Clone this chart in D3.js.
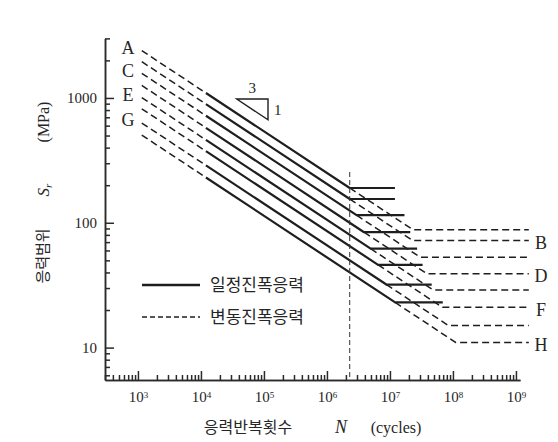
<!DOCTYPE html>
<html lang="ko">
<head>
<meta charset="UTF-8">
<title>S-N curves</title>
<script src="https://cdn.jsdelivr.net/npm/d3@7"></script>
<style>
  body { margin: 0; background: #fff; }
  svg { display: block; }
  .num { font-family: "Liberation Serif", "DejaVu Serif", serif; fill: #262626; }
  .kor { font-family: "Noto Sans CJK KR", sans-serif; fill: #262626; }
  .axis path, .axis line { stroke: #2a2a2a; stroke-width: 1.5px; }
</style>
</head>
<body>
<svg width="558" height="442"></svg>
<script>
// fatigue categories, stresses in MPa
const categories = ["A", "B", "C", "D", "E", "F", "G", "H"];
const stress2M = [190, 155, 125, 100, 80, 65, 50, 40];   // on the sloped line at refCycles
const cafl = [190, 155, 115, 84, 62, 46, 32, 23];          // constant amplitude limit
const vaLimit = [88, 72, 53, 39, 29, 21, 15, 11];          // variable amplitude cut-off
const solidEnd = [1.2e7, 1.2e7, 1.7e7, 2.1e7, 2.7e7, 3.3e7, 4.6e7, 6.9e7];
const refCycles = 2.3e6;
const startCycles = 1.15e3;
const solidStart = 1.2e4;
const endCycles = 1.6e9;
const refLineTop = 255;

const xTicks = [1e3, 1e4, 1e5, 1e6, 1e7, 1e8, 1e9];
const yTicks = [10, 100, 1000];
const leftLabels = ["A", "C", "E", "G"];
const rightLabels = ["B", "D", "F", "H"];
const legendNames = ["일정진폭응력", "변동진폭응력"];
// slope marker corners (cycles, MPa)
const slopeTri = [[3.7e4, 980], [1.16e5, 980], [1.16e5, 669]];

let svg = d3.select("svg");

const x = d3.scaleLog().domain([300, 1.16e9]).range([105, 520]);
const y = d3.scaleLog().domain([5.5, 3000]).range([380, 38.4]);

// minor ticks 2..9 in each decade
function minors(lo, hi) {
    let out = [];
    for (let d = Math.floor(Math.log10(lo)); d <= Math.ceil(Math.log10(hi)); d++) {
        for (let k = 2; k <= 9; k++) {
            let v = k * Math.pow(10, d);
            if (v >= lo && v <= hi) out.push(v);
        }
    }
    return out;
}

// axes
svg.append("g").attr("class", "axis").attr("transform", "translate(105,0)")
    .call(d3.axisLeft(y).tickValues(minors(5.5, 3000)).tickSizeInner(-5).tickSizeOuter(0).tickFormat(""));
let ya = svg.append("g").attr("class", "axis").attr("transform", "translate(105,0)")
    .call(d3.axisLeft(y).tickValues(yTicks).tickSizeInner(-9).tickSizeOuter(0).tickPadding(8).tickFormat(d3.format("d")));
ya.selectAll(".tick text").attr("class", "num").attr("font-size", "15px").attr("fill", "#262626");

svg.append("g").attr("class", "axis").attr("transform", "translate(0,380)")
    .call(d3.axisBottom(x).tickValues(minors(300, 1.16e9)).tickSizeInner(-5).tickSizeOuter(0).tickFormat(""));
let xa = svg.append("g").attr("class", "axis").attr("transform", "translate(0,380)")
    .call(d3.axisBottom(x).tickValues(xTicks).tickSizeInner(-9).tickSizeOuter(0).tickPadding(11).tickFormat(""));
xa.selectAll(".tick text")
    .attr("class", "num").attr("font-size", "15px").attr("fill", "#262626")
    .text("10")
    .append("tspan").attr("dy", "-0.45em").attr("font-size", "9px")
    .text(d => Math.round(Math.log10(d)));
svg.selectAll(".axis .domain").attr("stroke-width", 1.6);

// S-N lines
const line = d3.line().x(d => x(d[0])).y(d => y(d[1]));
const dark = "#1e1e1e";

categories.forEach(function (c, i) {
    let s = n => stress2M[i] * Math.cbrt(refCycles / n);
    let nce = refCycles * Math.pow(stress2M[i] / cafl[i], 3);
    let nva = refCycles * Math.pow(stress2M[i] / vaLimit[i], 3);

    let g = svg.append("g").attr("fill", "none").attr("stroke", dark);
    // dashed, low cycles
    g.append("path").attr("d", line([[startCycles, s(startCycles)], [solidStart, s(solidStart)]]))
        .attr("stroke-width", 1.5).attr("stroke-dasharray", "7,4");
    // dashed, variable amplitude branch
    g.append("path").attr("d", line([[nce, cafl[i]], [nva, vaLimit[i]], [endCycles, vaLimit[i]]]))
        .attr("stroke-width", 1.5).attr("stroke-dasharray", "7,4");
    // solid constant amplitude
    g.append("path").attr("d", line([[solidStart, s(solidStart)], [nce, cafl[i]], [solidEnd[i], cafl[i]]]))
        .attr("stroke-width", 2.2).attr("stroke-linejoin", "round");
});

// reference cycles marker
svg.append("path")
    .attr("d", line([[refCycles, refLineTop], [refCycles, 5.5]]))
    .attr("stroke", "#333").attr("stroke-width", 1).attr("stroke-dasharray", "5,3").attr("fill", "none");

// category letters
leftLabels.forEach(function (c) {
    let i = categories.indexOf(c);
    svg.append("text").attr("class", "num")
        .attr("x", 128).attr("y", y(stress2M[i] * Math.cbrt(refCycles / startCycles)) - 3)
        .attr("dy", "0.35em").attr("text-anchor", "middle").attr("font-size", "18px").text(c);
});
rightLabels.forEach(function (c) {
    let i = categories.indexOf(c);
    svg.append("text").attr("class", "num")
        .attr("x", 541).attr("y", y(vaLimit[i]) + 2)
        .attr("dy", "0.35em").attr("text-anchor", "middle").attr("font-size", "18px").text(c);
});

// slope triangle 3:1
svg.append("path").attr("d", line(slopeTri) + "Z")
    .attr("fill", "none").attr("stroke", dark).attr("stroke-width", 1.4);
svg.append("text").attr("class", "num").attr("text-anchor", "middle").attr("font-size", "15px")
    .attr("x", x(Math.sqrt(slopeTri[0][0] * slopeTri[1][0]))).attr("y", y(slopeTri[0][1]) - 6).text("3");
svg.append("text").attr("class", "num").attr("font-size", "15px").attr("dy", "0.35em")
    .attr("x", x(slopeTri[1][0]) + 6).attr("y", y(Math.sqrt(slopeTri[1][1] * slopeTri[2][1]))).text("1");

// legend
[285, 317].forEach(function (ly, k) {
    svg.append("line").attr("x1", 142).attr("x2", 200).attr("y1", ly).attr("y2", ly)
        .attr("stroke", dark).attr("stroke-width", k ? 1.5 : 2.4)
        .attr("stroke-dasharray", k ? "5,3" : null);
    svg.append("text").attr("class", "kor").attr("x", 210).attr("y", ly)
        .attr("dy", "0.35em").attr("font-size", "17px").text(legendNames[k]);
});

// axis titles
svg.append("text").attr("class", "kor").attr("font-size", "16px").attr("text-anchor", "middle")
    .attr("x", 248).attr("y", 427).attr("dy", "0.35em").text("응력반복횟수");
svg.append("text").attr("class", "num").attr("font-size", "18px").attr("font-style", "italic")
    .attr("text-anchor", "middle").attr("x", 341).attr("y", 427).attr("dy", "0.35em").text("N");
svg.append("text").attr("class", "num").attr("font-size", "16px").attr("text-anchor", "middle")
    .attr("x", 396).attr("y", 427).attr("dy", "0.35em").text("(cycles)");

function vlabel(cy, cls, size, txt) {
    return svg.append("text").attr("class", cls).attr("font-size", size).attr("text-anchor", "middle")
        .attr("transform", "translate(43," + cy + ") rotate(-90)").attr("dy", "0.35em").text(txt);
}
vlabel(256, "kor", "15px", "응력범위");
let sr = vlabel(190, "num", "17px", "S").attr("font-style", "italic");
sr.append("tspan").attr("font-size", "11px").attr("dy", "0.3em").text("r");
vlabel(122, "num", "16px", "(MPa)");
</script>
</body>
</html>
